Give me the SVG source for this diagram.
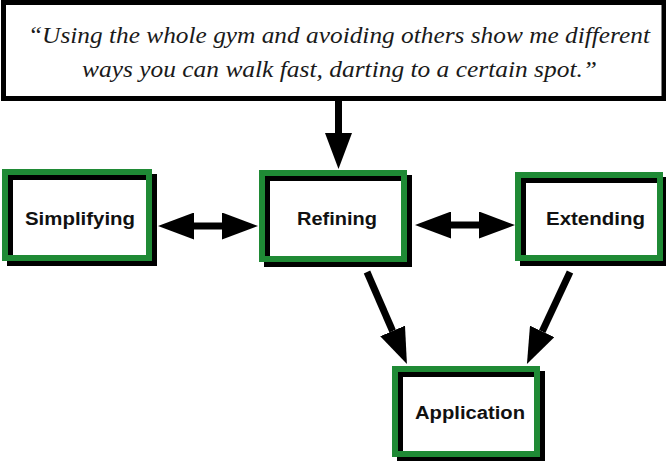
<svg xmlns="http://www.w3.org/2000/svg" width="666" height="461" viewBox="0 0 666 461">
  <style>
    .frame { fill: #ffffff; stroke: #000000; stroke-width: 5; }
    .quote { font-family: "Liberation Serif", "DejaVu Serif", serif; font-style: italic; font-size: 23px; fill: #1a1a1a; }
    .shadow { fill: none; stroke: #000000; stroke-width: 6; }
    .edge { fill: none; stroke: #1f8a35; stroke-width: 6; }
    .label { font-family: "Liberation Sans", Arial, sans-serif; font-weight: bold; font-size: 18px; fill: #111111; text-anchor: middle; }
    .link { fill: none; stroke: #000000; stroke-width: 7; }
  </style>
  <defs>
    <marker id="head" viewBox="0 0 36 27" refX="0" refY="13.5" markerWidth="36" markerHeight="27" markerUnits="userSpaceOnUse" orient="auto-start-reverse">
      <path d="M0,0 L36,13.5 L0,27 Z" fill="#000000"/>
    </marker>
  </defs>

  <rect width="666" height="461" fill="#ffffff"/>

  <!-- instruction box -->
  <g id="prompt">
    <rect class="frame" x="3.5" y="2.5" width="660.5" height="96"/>
    <text class="quote" x="28" y="43" textLength="622" lengthAdjust="spacingAndGlyphs">“Using the whole gym and avoiding others show me different</text>
    <text class="quote" x="82" y="77" textLength="515" lengthAdjust="spacingAndGlyphs">ways you can walk fast, darting to a certain spot.”</text>
  </g>

  <!-- connectors -->
  <g id="connectors">
    <line class="link" x1="338.5" y1="99" x2="338.5" y2="133" marker-end="url(#head)"/>
    <line class="link" x1="194" y1="226" x2="222" y2="226" marker-start="url(#head)" marker-end="url(#head)"/>
    <line class="link" x1="451" y1="225" x2="479" y2="225" marker-start="url(#head)" marker-end="url(#head)"/>
    <line class="link" x1="367" y1="272" x2="392.6" y2="331" marker-end="url(#head)"/>
    <line class="link" x1="570" y1="272" x2="542.2" y2="331.4" marker-end="url(#head)"/>
  </g>

  <!-- stages: black offset frame under a green frame -->
  <g id="simplifying">
    <rect class="shadow" x="10" y="177" width="144" height="86"/>
    <rect class="edge" x="5" y="172" width="144" height="86"/>
    <text class="label" x="80" y="225" textLength="110" lengthAdjust="spacingAndGlyphs">Simplifying</text>
  </g>

  <g id="refining">
    <rect class="shadow" x="267" y="178" width="142" height="86"/>
    <rect class="edge" x="262" y="173" width="142" height="86"/>
    <text class="label" x="337" y="225" textLength="80" lengthAdjust="spacingAndGlyphs">Refining</text>
  </g>

  <g id="extending">
    <rect class="shadow" x="523" y="180" width="142" height="83"/>
    <rect class="edge" x="518" y="175" width="142" height="83"/>
    <text class="label" x="595.5" y="225" textLength="99" lengthAdjust="spacingAndGlyphs">Extending</text>
  </g>

  <g id="application">
    <rect class="shadow" x="400" y="374" width="142" height="85"/>
    <rect class="edge" x="395" y="369" width="142" height="85"/>
    <text class="label" x="470" y="419" textLength="110" lengthAdjust="spacingAndGlyphs">Application</text>
  </g>
</svg>
